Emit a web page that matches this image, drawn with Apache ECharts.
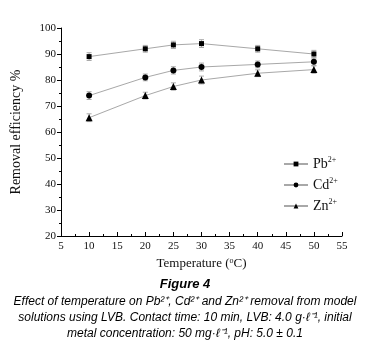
<!DOCTYPE html>
<html>
<head>
<meta charset="utf-8">
<script src="https://cdn.jsdelivr.net/npm/echarts@6/dist/echarts.min.js"></script>
<style>
  html, body { margin: 0; padding: 0; background: #fff; }
  #chart { width: 370px; height: 356px; }
</style>
</head>
<body>
<div id="chart"></div>
<script>
// temperatures (°C)
const temps = [10, 20, 25, 30, 40, 50];
// removal efficiency %
const pbVals = [89, 92, 93.5, 94, 92, 90];
const cdVals = [74, 81, 83.7, 85, 86, 87];
const znVals = [65.5, 74, 77.5, 80, 82.6, 84];
// error bar half-widths
const pbErr = [1.5, 1.3, 1.4, 1.5, 1.3, 1.4];
const cdErr = [1.5, 1.3, 1.4, 1.5, 1.3, 1.4];
const znErr = [1.5, 1.3, 1.4, 1.5, 1.3, 1.4];
const xTicks = [5, 55, 5];   // min, max, interval
const yTicks = [20, 100, 10];

const serif = 'Liberation Serif';
const lineCol = '#a8a8a8';

const pairs = (vals) => temps.map((t, i) => [t, vals[i]]);
const errData = (vals, errs) => temps.map((t, i) => [t, vals[i] - errs[i], vals[i] + errs[i]]);

function errSeries(vals, errs) {
  return {
    type: 'custom',
    silent: true,
    z: 1,
    data: errData(vals, errs),
    renderItem: function (params, api) {
      const lo = api.coord([api.value(0), api.value(1)]);
      const hi = api.coord([api.value(0), api.value(2)]);
      const w = 2.5;
      const st = { stroke: '#aaa', lineWidth: 1 };
      return {
        type: 'group',
        children: [
          { type: 'line', shape: { x1: lo[0], y1: lo[1], x2: hi[0], y2: hi[1] }, style: st },
          { type: 'line', shape: { x1: lo[0] - w, y1: lo[1], x2: lo[0] + w, y2: lo[1] }, style: st },
          { type: 'line', shape: { x1: hi[0] - w, y1: hi[1], x2: hi[0] + w, y2: hi[1] }, style: st }
        ]
      };
    }
  };
}

function lineSeries(name, vals, symbol, size) {
  return {
    name: name,
    type: 'line',
    data: pairs(vals),
    symbol: symbol,
    symbolSize: size,
    z: 3,
    lineStyle: { color: lineCol, width: 1 },
    itemStyle: { color: '#000' }
  };
}

const chart = echarts.init(document.getElementById('chart'));
chart.setOption({
  animation: false,
  backgroundColor: '#fff',
  grid: { left: 61, right: 28, top: 28, bottom: 120 },
  xAxis: {
    type: 'value',
    min: xTicks[0], max: xTicks[1], interval: xTicks[2],
    name: 'Temperature ({sup|o}C)',
    nameLocation: 'middle',
    nameGap: 18,
    nameTextStyle: {
      fontFamily: serif, fontSize: 13, color: '#111',
      rich: { sup: { fontFamily: serif, fontSize: 8, verticalAlign: 'top', padding: [0, 0, 6, 0] } }
    },
    axisLine: { lineStyle: { color: '#000', width: 1 } },
    axisTick: { inside: true, length: 4, lineStyle: { color: '#000' } },
    minorTick: { show: true, splitNumber: 2, length: 2, lineStyle: { color: '#000' } },
    axisLabel: { fontFamily: serif, fontSize: 11, color: '#111', margin: 5 },
    splitLine: { show: false }
  },
  yAxis: {
    type: 'value',
    min: yTicks[0], max: yTicks[1], interval: yTicks[2],
    name: 'Removal efficiency %',
    nameLocation: 'middle',
    nameGap: 38,
    nameTextStyle: { fontFamily: serif, fontSize: 14, color: '#111' },
    axisLine: { show: true, lineStyle: { color: '#000', width: 1 } },
    axisTick: { show: true, length: 4, lineStyle: { color: '#000' } },
    minorTick: { show: true, splitNumber: 2, length: 2, lineStyle: { color: '#000' } },
    axisLabel: { fontFamily: serif, fontSize: 11, color: '#111', margin: 5 },
    splitLine: { show: false }
  },
  legend: {
    orient: 'vertical',
    left: 283,
    top: 156,
    padding: 0,
    itemWidth: 24,
    itemHeight: 6,
    itemGap: 6,
    data: ['Pb', 'Cd', 'Zn'],
    formatter: (n) => n + '{sup|2+}',
    textStyle: {
      fontFamily: serif, fontSize: 14, color: '#111',
      rich: { sup: { fontFamily: serif, fontSize: 8, verticalAlign: 'top', padding: [0, 0, 8, 0] } }
    }
  },
  series: [
    errSeries(pbVals, pbErr),
    errSeries(cdVals, cdErr),
    errSeries(znVals, znErr),
    lineSeries('Pb', pbVals, 'rect', 5),
    lineSeries('Cd', cdVals, 'circle', 6),
    lineSeries('Zn', znVals, 'triangle', 7)
  ],
  graphic: [
    { type: 'text', left: 'center', top: 278, style: { text: 'Figure 4', font: 'italic bold 13px "Liberation Sans"', fill: '#000' } },
    { type: 'text', left: 'center', top: 296, style: { text: 'Effect of temperature on Pb²⁺, Cd²⁺ and Zn²⁺ removal from model', font: 'italic 12px "Liberation Sans"', fill: '#000' } },
    { type: 'text', left: 'center', top: 312, style: { text: 'solutions using LVB. Contact time: 10 min, LVB: 4.0 g·ℓ⁻¹, initial', font: 'italic 12px "Liberation Sans"', fill: '#000' } },
    { type: 'text', left: 'center', top: 328, style: { text: 'metal concentration: 50 mg·ℓ⁻¹, pH: 5.0 ± 0.1', font: 'italic 12px "Liberation Sans"', fill: '#000' } }
  ]
});
</script>
</body>
</html>
